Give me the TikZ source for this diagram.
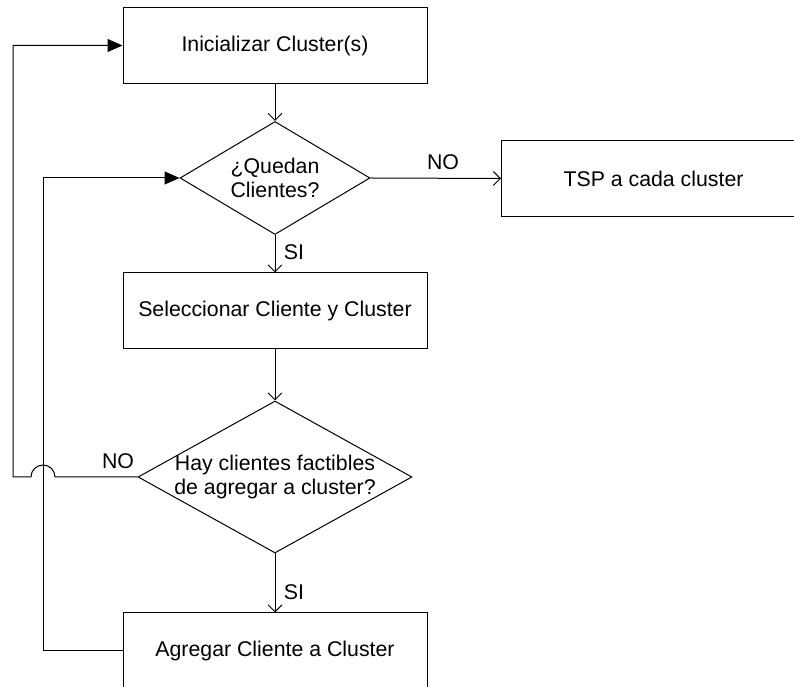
\documentclass[tikz,border=0pt]{standalone}
\usepackage{fontspec}
\setmainfont{Liberation Sans}
\usetikzlibrary{shapes.geometric,arrows.meta}

\begin{document}
\begin{tikzpicture}[x=1pt,y=1pt,
  font=\fontsize{21.3}{24.5}\selectfont,
  every node/.style={inner sep=0pt},
  procbox/.style={draw=black,line width=1pt,rectangle,minimum width=304pt,minimum height=76pt},
  decision/.style={draw=black,line width=1pt,diamond},
  flow/.style={line width=1pt,-{Straight Barb[length=7pt,width=14pt,line width=1pt]}},
  loopback/.style={line width=1pt,-{Triangle[length=15pt,width=13pt]}},
  edgelabel/.style={font=\fontsize{21.3}{24.5}\selectfont}
]
\useasboundingbox (0,0) rectangle (794,687);

% process boxes
\node[procbox] (init) at (275,641.5) {Inicializar Cluster(s)};
\node[procbox] (tsp)  at (653.5,508.5) {TSP a cada cluster};
\node[procbox] (sel)  at (275,376) {Seleccionar Cliente y Cluster};
\node[procbox] (add)  at (275,36) {Agregar Cliente a Cluster};

% decisions
\node[decision,minimum width=190pt,minimum height=113pt,
      label={[align=center]center:¿Quedan\\Clientes?}] (left) at (275,509) {};
\node[decision,minimum width=274pt,minimum height=152pt,
      label={[align=center]center:Hay clientes factibles\\de agregar a cluster?}] (feas) at (275,210) {};

% main flow
\draw[flow] (init.south) -- (left.north);
\draw[flow] (left.east) -- (tsp.west);
\draw[flow] (left.south) -- (sel.north);
\draw[flow] (sel.south) -- (feas.north);
\draw[flow] (feas.south) -- (add.north);

% loop back from the added client to the test for remaining clients
\coordinate (addturn) at (43,36);
\coordinate (leftturn) at (43,509);
\draw[loopback] (add.west) -- (addturn) -- (leftturn) -- (left.west);

% loop back to initialisation, jumping over the other loop line
\coordinate (jumpstart) at (55,210);
\coordinate (outercorner) at (13,210);
\coordinate (outertop) at (13,641.5);
\draw[loopback] (feas.west) -- (jumpstart) arc[start angle=0,end angle=180,radius=12pt]
  -- (outercorner) -- (outertop) -- (init.west);

% branch labels
\node[edgelabel] (lblno1) at (443,525) {NO};
\node[edgelabel] (lblsi1) at (294,435) {SI};
\node[edgelabel] (lblno2) at (118,226) {NO};
\node[edgelabel] (lblsi2) at (294,95) {SI};
\end{tikzpicture}
\end{document}
